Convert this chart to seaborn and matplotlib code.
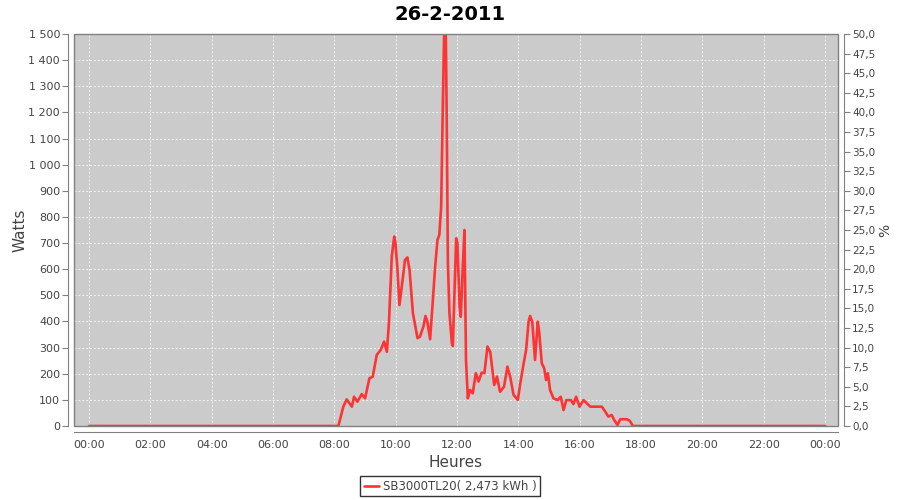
import matplotlib
matplotlib.use("Agg")
import matplotlib.pyplot as plt
import matplotlib.ticker as mticker
from matplotlib.patches import Rectangle
import pandas as pd
import seaborn as sns

# chart data
title = "26-2-2011"
series_name = "SB3000TL20( 2,473 kWh )"

hours = [0.0, 8.13, 8.29, 8.40, 8.57, 8.64, 8.75, 8.89, 9.00, 9.14, 9.25, 9.38,
         9.51, 9.62, 9.71, 9.78, 9.87, 9.95, 9.99, 10.05, 10.12, 10.21, 10.30,
         10.38, 10.45, 10.56, 10.71, 10.79, 10.90, 10.97, 11.03, 11.12, 11.21,
         11.28, 11.36, 11.42, 11.48, 11.53, 11.58, 11.63, 11.66, 11.70, 11.75,
         11.83, 11.86, 11.90, 11.97, 12.01, 12.08, 12.12, 12.19, 12.24, 12.29,
         12.35, 12.42, 12.51, 12.61, 12.70, 12.80, 12.89, 12.99, 13.08, 13.21,
         13.30, 13.40, 13.53, 13.64, 13.73, 13.84, 13.98, 14.06, 14.16, 14.25,
         14.33, 14.38, 14.45, 14.54, 14.63, 14.68, 14.76, 14.84, 14.90, 14.96,
         15.03, 15.14, 15.27, 15.38, 15.47, 15.56, 15.71, 15.79, 15.88, 15.99,
         16.12, 16.21, 16.34, 16.72, 16.83, 16.93, 17.04, 17.12, 17.23, 17.32,
         17.53, 17.63, 17.73, 24.0]
watts = [0, 0, 74, 102, 74, 112, 93, 122, 106, 182, 189, 272,
         291, 323, 284, 399, 648, 725, 700, 610, 463, 546, 635,
         645, 597, 431, 336, 342, 380, 421, 399, 332, 482,
         603, 712, 731, 839, 1197, 1520, 1520, 1197, 623, 432,
         316, 306, 457, 718, 699, 457, 418, 623, 750, 253,
         106, 138, 125, 202, 170, 204, 202, 304, 284, 157,
         189, 131, 150, 227, 189, 119, 100, 163, 233, 291,
         399, 421, 399, 253, 399, 355, 240, 221, 176, 202,
         138, 106, 99, 112, 61, 99, 99, 84, 112, 74,
         99, 89, 74, 74, 55, 36, 42, 23, 4, 26,
         26, 20, 0, 0]

tick_hours = [0, 2, 4, 6, 8, 10, 12, 14, 16, 18, 20, 22, 24]
tick_labels = ["00:00", "02:00", "04:00", "06:00", "08:00", "10:00", "12:00",
               "14:00", "16:00", "18:00", "20:00", "22:00", "00:00"]

sns.set_style("white")
plt.rcParams["font.family"] = ["DejaVu Sans"]

grey = "#808080"
text_col = "#444444"

fig = plt.figure(figsize=(9, 5), dpi=100)
ax = fig.add_axes([0.0822, 0.148, 0.849, 0.784])
ax.set_facecolor("#cbcbcb")

df = pd.DataFrame({"Heures": hours, "Watts": watts, "serie": series_name})
sns.lineplot(data=df, x="Heures", y="Watts", hue="serie", palette=["#ff3333"],
             estimator=None, linewidth=1.9, ax=ax, legend=False)

ax.set_xlim(-0.49, 24.42)
ax.set_ylim(0, 1500)
ax.set_xticks(tick_hours)
ax.set_xticklabels(tick_labels)
ax.yaxis.set_major_locator(mticker.MultipleLocator(100))
ax.yaxis.set_major_formatter(
    mticker.FuncFormatter(lambda v, p: f"{int(v):,}".replace(",", " ")))
ax.grid(True, color="#f2f2f2", linestyle=(0, (2, 2)), linewidth=0.7)
ax.set_axisbelow(True)

for side in ["top", "right"]:
    ax.spines[side].set_visible(False)
for side in ["left", "bottom"]:
    ax.spines[side].set_position(("outward", 4))
    ax.spines[side].set_color(grey)
ax.add_patch(Rectangle((0, 0), 1, 1, transform=ax.transAxes, fill=False,
                       edgecolor=grey, linewidth=1, clip_on=False, zorder=5))

ax.tick_params(direction="out", length=4, width=0.8, color=grey,
               labelcolor=text_col, labelsize=8, pad=2)
ax.set_xlabel("Heures", fontsize=11, color=text_col, labelpad=4)
ax.set_ylabel("Watts", fontsize=11, color=text_col, labelpad=1)

# right axis in percent
ax2 = ax.twinx()
ax2.set_ylim(0, 50)
ax2.yaxis.set_major_locator(mticker.MultipleLocator(2.5))
ax2.yaxis.set_major_formatter(
    mticker.FuncFormatter(lambda v, p: f"{v:.1f}".replace(".", ",")))
for side in ["top", "left", "bottom"]:
    ax2.spines[side].set_visible(False)
ax2.spines["right"].set_position(("outward", 4))
ax2.spines["right"].set_color(grey)
ax2.tick_params(direction="out", length=4, width=0.8, color=grey,
                labelcolor=text_col, labelsize=7.5, pad=2)
ax2.set_ylabel("%", fontsize=10, color=text_col, labelpad=2)

fig.text(0.5, 0.972, title, ha="center", va="center", fontsize=14,
         fontweight="bold", color="black")

leg = fig.legend(handles=ax.get_lines()[:1], labels=[series_name],
                 loc="lower center", bbox_to_anchor=(0.5, 0.0), fontsize=8.5,
                 frameon=True, fancybox=False, handlelength=1.3,
                 handletextpad=0.3, borderpad=0.3, borderaxespad=0.3)
leg.get_frame().set_edgecolor("black")
leg.get_frame().set_linewidth(1)
for t in leg.get_texts():
    t.set_color(text_col)

fig.savefig("out.png", dpi=100)
